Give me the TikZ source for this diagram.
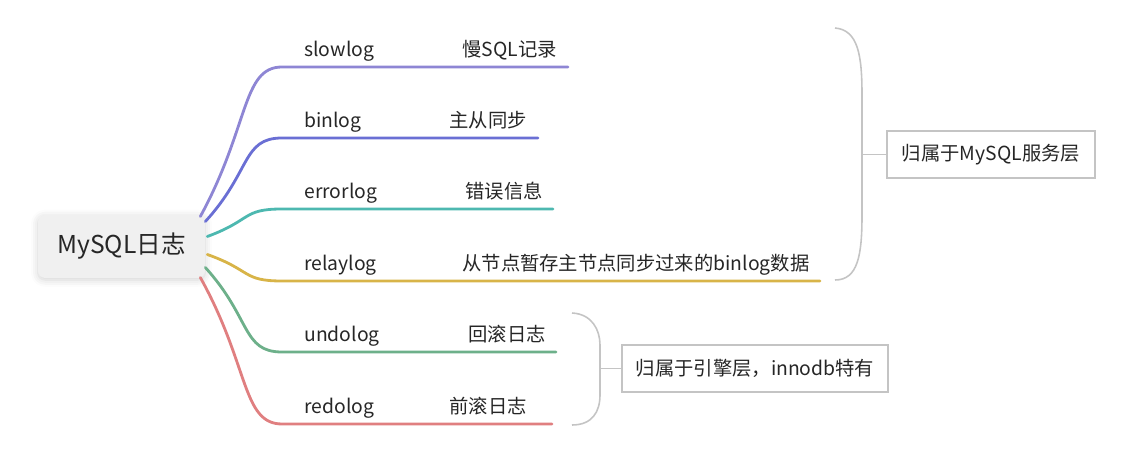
\documentclass[tikz,border=0pt]{standalone}
\usepackage{fontspec}
\setmainfont{Noto Sans CJK SC}
\usetikzlibrary{positioning,calc,shadows.blur}
\definecolor{slowc}{HTML}{8E86D4}
\definecolor{binc}{HTML}{6A6FD4}
\definecolor{errc}{HTML}{4DB8B0}
\definecolor{relayc}{HTML}{D8B448}
\definecolor{undoc}{HTML}{6DB08A}
\definecolor{redoc}{HTML}{E07F80}
\definecolor{framec}{HTML}{C4C4C4}
\definecolor{inkc}{HTML}{262626}
\tikzset{
	root/.style={
			fill=black!6, rounded corners=4pt, minimum width=3.34cm, minimum height=1.26cm,
			text=inkc, font=\fontsize{14}{17}\selectfont,
			blur shadow={shadow xshift=0pt, shadow yshift=-1pt, shadow blur radius=4pt, shadow opacity=18}
		},
	leaf/.style={anchor=base west, inner sep=0pt, text=inkc, font=\fontsize{11}{13}\selectfont},
	branch/.style={draw=#1, line width=1.6pt, line cap=round},
	tag/.style={draw=framec, line width=0.8pt, minimum height=0.94cm, text=inkc, font=\fontsize{11}{13}\selectfont},
	fence/.style={draw=framec, line width=0.9pt}
}

\begin{document}
\begin{tikzpicture}[x=0.02cm, y=-0.02cm]
    \useasboundingbox (0,0) rectangle (1138,455);

    % central topic
    \node[root] (mysql) at (121.5,246.5) {MySQL日志};

    % branches: name / note / colour / offset on root / line y / line end / note x
    \foreach \name/\note/\col/\dx/\dy/\ly/\ex/\nx in {
        slowlog/慢SQL记录/slowc/-5/-30/67/568/462,
        binlog/主从同步/binc/0/-25/138/538/449,
        errorlog/错误信息/errc/2/-10/209/553/465,
        relaylog/从节点暂存主节点同步过来的binlog数据/relayc/2/8/281/820/462,
        undolog/回滚日志/undoc/0/21/352/556/468,
        redolog/前滚日志/redoc/-5/31/424/552/449} {
      \coordinate (\name-s) at ($(mysql.east)+(\dx,\dy)$);
      \coordinate (\name-e) at (282,\ly);
      \coordinate (\name-t) at (\ex,\ly);
      \draw[branch=\col] (\name-s) .. controls ($(\name-s)!0.6!(\name-e)$) and ($(\name-e)+(-40,0)$) .. (\name-e) -- (\name-t);
      \node[leaf] (\name) at (304,\ly-10) {\name};
      \node[leaf] (\name-note) at (\nx,\ly-10) {\note};
    }

    % server layer
    \node[tag, minimum width=4.16cm] (server) at (991,154.5) {归属于MySQL服务层};
    \draw[fence] (835,28) .. controls (858,30) and (862,55) .. (862,95) -- (862,215)
      .. controls (862,255) and (858,280) .. (835,280);
    \coordinate (server-in) at (862,154.5);
    \draw[fence] (server-in) -- (server.west);

    % engine layer
    \node[tag, minimum width=5.32cm] (engine) at (755,368.5) {归属于引擎层，innodb特有};
    \draw[fence] (572,313) .. controls (592,314) and (600,330) .. (600,345) -- (600,395)
      .. controls (600,412) and (592,425) .. (572,425);
    \coordinate (engine-in) at (600,368.5);
    \draw[fence] (engine-in) -- (engine.west);
\end{tikzpicture}
\end{document}
